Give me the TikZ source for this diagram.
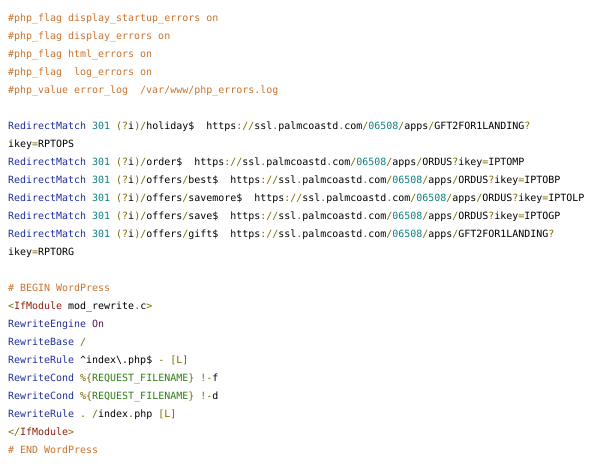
\documentclass[tikz,border=0pt]{standalone}
\usepackage{fontspec}
\setmonofont{DejaVu Sans Mono}
\usepackage{tikz}

\definecolor{cmtcol}{HTML}{C9722E}
\definecolor{kwcol}{HTML}{1F2E9C}
\definecolor{numcol}{HTML}{0F7F7F}
\definecolor{pctcol}{HTML}{7A6800}
\definecolor{tagcol}{HTML}{8A1E0E}
\definecolor{valcol}{HTML}{5B1150}
\definecolor{varcol}{HTML}{2E7D12}

\newcommand{\cmt}[1]{\textcolor{cmtcol}{#1}}
\newcommand{\kw}[1]{\textcolor{kwcol}{#1}}
\newcommand{\nm}[1]{\textcolor{numcol}{#1}}
\newcommand{\pct}[1]{\textcolor{pctcol}{#1}}
\newcommand{\tg}[1]{\textcolor{tagcol}{#1}}
\newcommand{\val}[1]{\textcolor{valcol}{#1}}
\newcommand{\vr}[1]{\textcolor{varcol}{#1}}
\newcommand{\rdm}{\kw{RedirectMatch} \nm{301} \pct{(?}i\pct{)}}
\newcommand{\palm}{https\pct{://}ssl\pct{.}palmcoastd\pct{.}com\pct{/}\nm{06508}\pct{/}apps\pct{/}}

\begin{document}
\begin{tikzpicture}[x=1pt,y=-1pt]
	\tikzstyle{codeline}=[anchor=base west,inner sep=0pt,font=\ttfamily\fontsize{9.97}{12}\selectfont]
	\useasboundingbox (0,0) rectangle (600,466);
	% php flags
	\node[codeline] (php1) at (8,21) {\cmt{\#php\_flag display\_startup\_errors on}};
	\node[codeline] (php2) at (8,39) {\cmt{\#php\_flag display\_errors on}};
	\node[codeline] (php3) at (8,57) {\cmt{\#php\_flag html\_errors on}};
	\node[codeline] (php4) at (8,75) {\cmt{\#php\_flag~ log\_errors on}};
	\node[codeline] (php5) at (8,93) {\cmt{\#php\_value error\_log~ /var/www/php\_errors.log}};
	% redirects
	\node[codeline] (rd1) at (8,129) {\rdm\pct{/}holiday\$~ \palm GFT2FOR1LANDING\pct{?}};
	\node[codeline] (rd1b) at (8,147) {ikey\pct{=}RPTOPS};
	\node[codeline] (rd2) at (8,165) {\rdm\pct{/}order\$~ \palm ORDUS\pct{?}ikey\pct{=}IPTOMP};
	\node[codeline] (rd3) at (8,183) {\rdm\pct{/}offers\pct{/}best\$~ \palm ORDUS\pct{?}ikey\pct{=}IPTOBP};
	\node[codeline] (rd4) at (8,201) {\rdm\pct{/}offers\pct{/}savemore\$~ \palm ORDUS\pct{?}ikey\pct{=}IPTOLP};
	\node[codeline] (rd5) at (8,219) {\rdm\pct{/}offers\pct{/}save\$~ \palm ORDUS\pct{?}ikey\pct{=}IPTOGP};
	\node[codeline] (rd6) at (8,237) {\rdm\pct{/}offers\pct{/}gift\$~ \palm GFT2FOR1LANDING\pct{?}};
	\node[codeline] (rd6b) at (8,255) {ikey\pct{=}RPTORG};
	% wordpress block
	\node[codeline] (wp1) at (8,291) {\cmt{\# BEGIN WordPress}};
	\node[codeline] (wp2) at (8,309) {\pct{<}\tg{IfModule} mod\_rewrite\pct{.}c\pct{>}};
	\node[codeline] (wp3) at (8,327) {\kw{RewriteEngine} \val{On}};
	\node[codeline] (wp4) at (8,345) {\kw{RewriteBase} \pct{/}};
	\node[codeline] (wp5) at (8,363) {\kw{RewriteRule} \textasciicircum index\textbackslash.php\$ \pct{-} \pct{[L]}};
	\node[codeline] (wp6) at (8,381) {\kw{RewriteCond} \pct{\%\{}\vr{REQUEST\_FILENAME}\pct{\}} \pct{!-}f};
	\node[codeline] (wp7) at (8,399) {\kw{RewriteCond} \pct{\%\{}\vr{REQUEST\_FILENAME}\pct{\}} \pct{!-}d};
	\node[codeline] (wp8) at (8,417) {\kw{RewriteRule} \pct{.} \pct{/}index\pct{.}php \pct{[L]}};
	\node[codeline] (wp9) at (8,435) {\pct{</}\tg{IfModule}\pct{>}};
	\node[codeline] (wp10) at (8,453) {\cmt{\# END WordPress}};
\end{tikzpicture}
\end{document}
